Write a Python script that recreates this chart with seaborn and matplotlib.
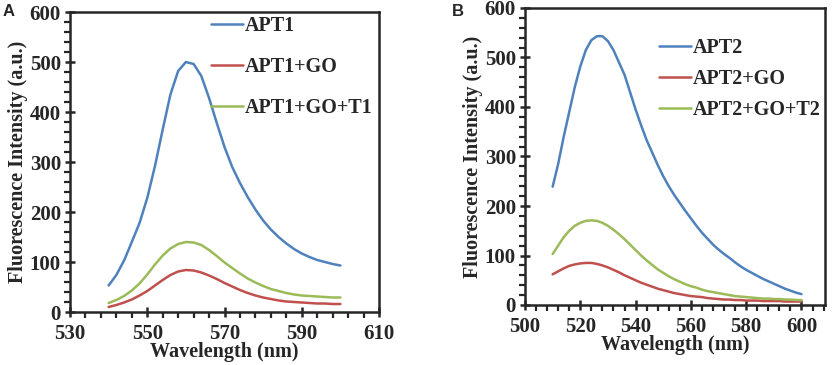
import numpy as np
import pandas as pd
import matplotlib
matplotlib.use("Agg")
import matplotlib.pyplot as plt
from matplotlib.ticker import MultipleLocator
import seaborn as sns

# panel A data (2 nm steps)
wl_a = list(range(540, 601, 2))
apt1 = [53, 74, 103, 140, 178, 228, 292, 365, 435, 482, 500, 496, 472, 428, 378,
        330, 290, 258, 230, 205, 183, 165, 150, 137, 126, 117, 110, 104, 100, 96, 93]
apt1_go = [10, 14, 19, 25, 33, 42, 53, 64, 74, 81, 84, 83, 79, 73, 66, 58, 51, 44,
           38, 33, 29, 26, 23, 21, 20, 19, 18, 17, 17, 16, 16]
apt1_go_t1 = [18, 24, 32, 43, 57, 75, 95, 113, 127, 136, 140, 139, 134, 124, 112,
              99, 88, 77, 67, 59, 52, 46, 42, 38, 35, 33, 32, 31, 30, 29, 29]

# panel B data
wl_b = list(range(510, 601, 2))
apt2 = [239, 285, 340, 390, 440, 482, 515, 535, 543, 543, 533, 515, 490, 465, 430,
        395, 363, 333, 308, 283, 260, 240, 222, 206, 190, 175, 160, 146, 134, 122,
        112, 103, 95, 86, 78, 71, 65, 59, 53, 48, 43, 38, 33, 29, 25, 22]
apt2_go = [62, 68, 74, 79, 82, 84, 85, 85, 83, 80, 76, 71, 66, 60, 55, 50, 45, 41,
           37, 33, 30, 27, 24, 22, 20, 18, 17, 16, 14, 13, 12, 11, 11, 10, 10, 9, 9,
           9, 8, 8, 8, 8, 7, 7, 7, 7]
apt2_go_t2 = [103, 120, 137, 150, 160, 166, 170, 171, 170, 166, 160, 152, 143, 133,
              122, 111, 100, 90, 81, 72, 65, 58, 52, 47, 42, 38, 35, 31, 28, 26, 24,
              22, 20, 18, 17, 16, 15, 14, 13, 13, 12, 12, 11, 11, 10, 10]

colors = ["#4F81BD", "#C0504D", "#9BBB59"]


def long_df(wl, series, names):
    parts = []
    for s, n in zip(series, names):
        parts.append(pd.DataFrame({"wl": wl, "val": s, "name": n}))
    return pd.concat(parts, ignore_index=True)


df_a = long_df(wl_a, [apt1, apt1_go, apt1_go_t1], ["APT1", "APT1+GO", "APT1+GO+T1"])
df_b = long_df(wl_b, [apt2, apt2_go, apt2_go_t2], ["APT2", "APT2+GO", "APT2+GO+T2"])

sns.set_style("ticks")
plt.rcParams["font.family"] = ["Liberation Serif", "DejaVu Serif"]
plt.rcParams["font.weight"] = "bold"

fig = plt.figure(figsize=(8.32, 3.65), dpi=100)
ax1 = fig.add_axes([70 / 832, 53 / 365, 309 / 832, 300 / 365])
ax2 = fig.add_axes([525 / 832, 60 / 365, 300 / 832, 297 / 365])


def style_axis(ax, xlim, xoff):
    ax.set_xlim(*xlim)
    ax.set_ylim(0, 600)
    ax.xaxis.set_major_locator(MultipleLocator(20, offset=xoff))
    ax.xaxis.set_minor_locator(MultipleLocator(4, offset=xoff % 4))
    ax.yaxis.set_major_locator(MultipleLocator(100))
    ax.yaxis.set_minor_locator(MultipleLocator(20))
    ax.tick_params(which="major", direction="inout", length=7, width=1.8,
                   labelsize=15, pad=3)
    ax.tick_params(which="minor", direction="out", length=4, width=1.6)
    ax.tick_params(axis="x", which="major", pad=5)
    for sp in ax.spines.values():
        sp.set_linewidth(1.8)
        sp.set_visible(True)
    for lab in ax.get_xticklabels() + ax.get_yticklabels():
        lab.set_fontweight("bold")
    ax.set_xlabel("Wavelength (nm)", fontsize=14.5, fontweight="bold", labelpad=-1)
    ax.set_ylabel("Fluorescence Intensity (a.u.)", fontsize=14.5, fontweight="bold",
                  labelpad=1)


sns.lineplot(data=df_a, x="wl", y="val", hue="name", palette=colors, ax=ax1,
             linewidth=1.8)
style_axis(ax1, (530, 610), 10)
ax1.legend(loc="upper left", bbox_to_anchor=(0.43, 1.013), frameon=False,
           fontsize=14.5, handlelength=1.6, handletextpad=0.1, labelspacing=1.05,
           borderaxespad=0)

sns.lineplot(data=df_b, x="wl", y="val", hue="name", palette=colors, ax=ax2,
             linewidth=1.8)
style_axis(ax2, (500, 608.5), 0)
ax2.legend(loc="upper left", bbox_to_anchor=(0.42, 0.925), frameon=False,
           fontsize=14.5, handlelength=1.6, handletextpad=0.1, labelspacing=0.55,
           borderaxespad=0)

fig.text(3 / 832, 1 - 16 / 365, "A", fontsize=12, fontweight="bold",
         family=["Liberation Sans", "DejaVu Sans"])
fig.text(452 / 832, 1 - 16 / 365, "B", fontsize=12, fontweight="bold",
         family=["Liberation Sans", "DejaVu Sans"])

fig.savefig("out.png", dpi=100)
